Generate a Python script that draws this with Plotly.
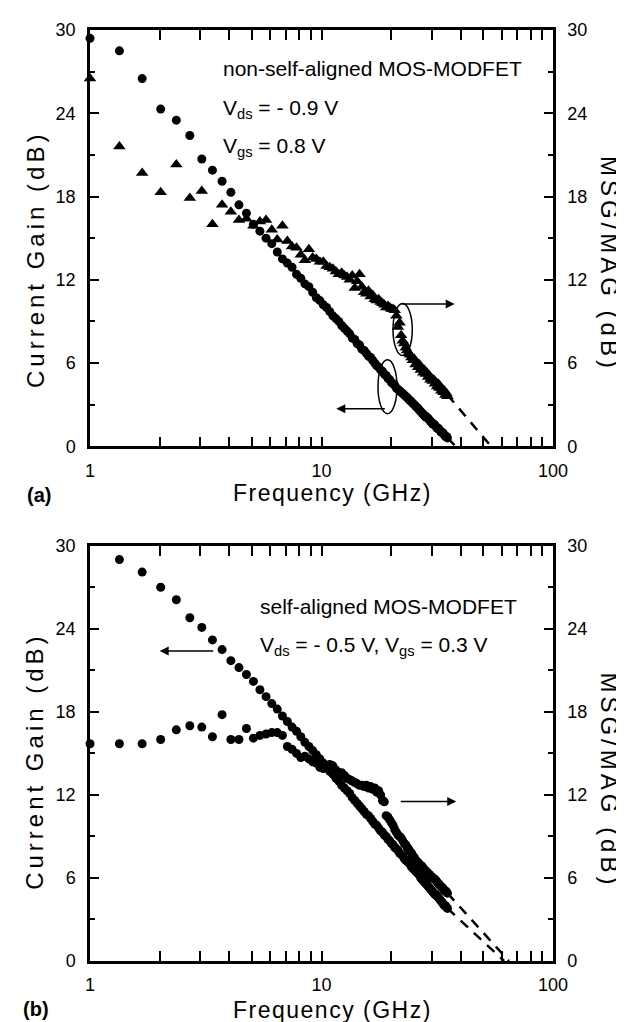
import plotly.graph_objects as go

FONT = "Arial, 'Liberation Sans', Helvetica, sans-serif"

# Frequency sweep (GHz), shared by both panels
freq = [
    1.00, 1.34, 1.68, 2.02, 2.36, 2.70, 3.04, 3.38, 3.72, 4.06,
    4.40, 4.74, 5.08, 5.42, 5.76, 6.10, 6.44, 6.78, 7.12, 7.46,
    7.80, 8.14, 8.48, 8.82, 9.16, 9.50, 9.84, 10.18, 10.52, 10.86,
    11.20, 11.54, 11.88, 12.22, 12.56, 12.90, 13.24, 13.58, 13.92, 14.26,
    14.60, 14.94, 15.28, 15.62, 15.96, 16.30, 16.64, 16.98, 17.32, 17.66,
    18.00, 18.34, 18.68, 19.02, 19.36, 19.70, 20.04, 20.38, 20.72, 21.06,
    21.40, 21.74, 22.08, 22.42, 22.76, 23.10, 23.44, 23.78, 24.12, 24.46,
    24.80, 25.14, 25.48, 25.82, 26.16, 26.50, 26.84, 27.18, 27.52, 27.86,
    28.20, 28.54, 28.88, 29.22, 29.56, 29.90, 30.24, 30.58, 30.92, 31.26,
    31.60, 31.94, 32.28, 32.62, 32.96, 33.30, 33.64, 33.98, 34.32, 34.66,
    35.00,
]

# (a) non-self-aligned: current gain (circles, left axis)
cg_a = [
    29.4, 28.5, 26.5, 24.3, 23.5, 22.4, 20.7, 19.9, 19.1, 18.3,
    17.4, 16.8, 16.0, 15.5, 15.0, 14.6, 14.0, 13.5, 13.2, 12.9,
    12.4, 12.1, 11.7, 11.5, 11.1, 10.7, 10.5, 10.2, 10.0, 9.7,
    9.4, 9.2, 9.0, 8.7, 8.5, 8.3, 8.1, 7.8, 7.7, 7.4,
    7.3, 7.0, 6.9, 6.7, 6.5, 6.4, 6.2, 6.0, 5.8, 5.7,
    5.5, 5.4, 5.2, 5.1, 4.9, 4.8, 4.6, 4.5, 4.4, 4.2,
    4.1, 4.0, 3.9, 3.8, 3.7, 3.6, 3.5, 3.4, 3.3, 3.2,
    3.1, 3.0, 2.9, 2.8, 2.7, 2.6, 2.5, 2.4, 2.3, 2.2,
    2.1, 2.1, 2.0, 1.9, 1.8, 1.7, 1.6, 1.6, 1.5, 1.4,
    1.3, 1.3, 1.2, 1.1, 1.0, 1.0, 0.9, 0.8, 0.7, 0.7,
    0.6,
]

# (a) non-self-aligned: MSG/MAG (triangles, right axis)
msg_a = [
    26.5, 21.6, 19.7, 18.3, 20.3, 17.9, 18.4, 16.0, 17.4, 16.9,
    16.3, 16.4, 15.9, 16.2, 16.3, 15.6, 14.9, 15.9, 14.8, 14.4,
    14.3, 13.8, 13.4, 14.2, 13.6, 13.5, 13.3, 13.3, 13.0, 12.9,
    12.8, 12.6, 12.4, 12.5, 12.3, 12.2, 12.0, 12.3, 11.4, 11.9,
    12.4, 11.5, 11.1, 11.0, 11.2, 10.8, 10.9, 10.6, 10.5, 10.6,
    10.4, 10.3, 10.2, 10.0, 10.1, 10.0, 9.9, 9.9, 9.8, 9.4,
    8.6, 8.9, 8.0, 7.6, 7.4, 7.1, 6.9, 6.7, 6.6, 6.4,
    6.2, 6.3, 5.9, 6.0, 5.7, 5.9, 5.5, 5.6, 5.3, 5.5,
    5.2, 5.3, 5.0, 5.1, 4.8, 4.9, 4.7, 4.8, 4.5, 4.6,
    4.3, 4.5, 4.2, 4.3, 4.0, 4.1, 3.9, 4.0, 3.7, 3.8,
    3.6,
]

# (b) self-aligned: current gain (circles, left axis)
cg_b = [
    None, 29.0, 28.1, 27.0, 26.1, 24.8, 24.1, 23.2, 22.5, 21.7,
    21.2, 20.7, 20.2, 19.6, 19.1, 18.6, 18.2, 17.7, 17.3, 16.9,
    16.6, 16.2, 15.8, 15.5, 15.2, 14.9, 14.6, 14.3, 14.0, 13.7,
    13.5, 13.2, 13.0, 12.7, 12.5, 12.3, 12.1, 11.8, 11.6, 11.4,
    11.2, 11.0, 10.8, 10.6, 10.5, 10.3, 10.1, 9.9, 9.8, 9.6,
    9.4, 9.3, 9.1, 9.0, 8.8, 8.7, 8.5, 8.4, 8.2, 8.1,
    8.0, 7.8, 7.7, 7.6, 7.4, 7.3, 7.2, 7.1, 7.0, 6.8,
    6.7, 6.6, 6.5, 6.4, 6.3, 6.2, 6.0, 5.9, 5.8, 5.7,
    5.6, 5.5, 5.4, 5.3, 5.2, 5.1, 5.0, 4.9, 4.8, 4.8,
    4.7, 4.6, 4.5, 4.4, 4.3, 4.2, 4.1, 4.0, 4.0, 3.9,
    3.8,
]

# (b) self-aligned: MSG/MAG (circles, right axis)
msg_b = [
    15.7, 15.7, 15.7, 16.0, 16.7, 17.0, 16.9, 16.2, 17.8, 16.0,
    16.0, 16.8, 16.1, 16.3, 16.4, 16.5, 16.5, 16.3, 15.5, 15.3,
    15.0, 14.7, 14.8, 14.6, 14.4, 14.3, 14.0, 13.9, 14.0, 14.2,
    14.1, 13.8, 13.6, 13.6, 13.4, 13.2, 13.1, 13.0, 12.9, 12.8,
    12.7, 12.7, 12.6, 12.7, 12.5, 12.6, 12.4, 12.5, 12.2, 12.3,
    12.0, 11.6, 11.5, 10.5, 10.4, 10.2, 10.0, 9.8, 9.5, 9.3,
    9.1, 9.0, 8.9, 8.7, 8.5, 8.4, 8.2, 8.1, 7.9, 7.8,
    7.6, 7.5, 7.3, 7.2, 7.1, 7.0, 6.9, 6.85, 6.7, 6.6,
    6.5, 6.4, 6.35, 6.25, 6.15, 6.1, 6.0, 5.95, 5.9, 5.8,
    5.7, 5.6, 5.5, 5.45, 5.35, 5.3, 5.2, 5.1, 5.05, 5.0,
    4.9,
]

# extrapolations to 0 dB (dashed)
ext_a_msg_f = [35.0, 54.0]
ext_a_msg_db = [3.7, 0.0]
ext_a_cg_f = [35.0, 38.0]
ext_a_cg_db = [0.6, 0.0]
ext_b_msg_f = [35.0, 64.5]
ext_b_msg_db = [4.9, 0.0]
ext_b_cg_f = [35.0, 61.5]
ext_b_cg_db = [3.8, 0.0]

x_ticks = [1, 10, 100]
y_range = [0, 30]

fig = go.Figure()

mk_c = dict(symbol="circle", size=9, color="black", line=dict(width=0))
mk_t = dict(symbol="triangle-up", size=11, color="black", line=dict(width=0))
dash_line = dict(color="black", width=2.5, dash="10px,8px")

fig.add_trace(go.Scatter(x=freq, y=cg_a, mode="markers", marker=mk_c,
                         xaxis="x", yaxis="y", cliponaxis=False))
fig.add_trace(go.Scatter(x=freq, y=msg_a, mode="markers", marker=mk_t,
                         xaxis="x", yaxis="y2", cliponaxis=False))
fig.add_trace(go.Scatter(x=ext_a_msg_f, y=ext_a_msg_db, mode="lines", line=dash_line,
                         xaxis="x", yaxis="y2"))
fig.add_trace(go.Scatter(x=ext_a_cg_f, y=ext_a_cg_db, mode="lines", line=dash_line,
                         xaxis="x", yaxis="y"))

fig.add_trace(go.Scatter(x=freq, y=cg_b, mode="markers", marker=mk_c,
                         xaxis="x2", yaxis="y3", cliponaxis=False))
fig.add_trace(go.Scatter(x=freq, y=msg_b, mode="markers", marker=mk_c,
                         xaxis="x2", yaxis="y4", cliponaxis=False))
fig.add_trace(go.Scatter(x=ext_b_msg_f, y=ext_b_msg_db, mode="lines", line=dash_line,
                         xaxis="x2", yaxis="y4"))
fig.add_trace(go.Scatter(x=ext_b_cg_f, y=ext_b_cg_db, mode="lines", line=dash_line,
                         xaxis="x2", yaxis="y3"))

tickfont = dict(family=FONT, size=18, color="black")

xcommon = dict(
    type="log", range=[0, 2], tickmode="array", tickvals=x_ticks,
    ticktext=[str(v) for v in x_ticks],
    showline=True, linewidth=2.5, linecolor="black", mirror="allticks",
    ticks="inside", ticklen=10, tickwidth=2, tickcolor="black",
    showgrid=False, zeroline=False, tickfont=tickfont, ticklabelstandoff=6,
    minor=dict(tickvals=[2, 3, 4, 5, 6, 7, 8, 9, 20, 30, 40, 50, 60, 70, 80, 90],
               ticks="inside", ticklen=6, tickwidth=2, tickcolor="black", showgrid=False),
)
ycommon = dict(
    range=y_range, tickmode="linear", tick0=0, dtick=6,
    showline=True, linewidth=2.5, linecolor="black",
    ticks="inside", ticklen=9, tickwidth=2, tickcolor="black",
    showgrid=False, zeroline=False, tickfont=tickfont, ticklabelstandoff=8,
    minor=dict(dtick=3, ticks="inside", ticklen=5, tickwidth=2, tickcolor="black", showgrid=False),
)

TOP_DOM = [0.5529, 1.0]
BOT_DOM = [0.0, 0.4460]

fig.update_layout(
    width=624, height=1022,
    margin=dict(l=82, r=79, t=18, b=69),
    paper_bgcolor="white", plot_bgcolor="white",
    showlegend=False,
    font=dict(family=FONT, color="black"),
    xaxis=dict(xcommon, anchor="y", domain=[0, 1]),
    xaxis2=dict(xcommon, anchor="y3", domain=[0, 1]),
    yaxis=dict(ycommon, domain=TOP_DOM, anchor="x", side="left"),
    yaxis2=dict(ycommon, overlaying="y", anchor="x", side="right"),
    yaxis3=dict(ycommon, domain=BOT_DOM, anchor="x2", side="left"),
    yaxis4=dict(ycommon, overlaying="y3", anchor="x2", side="right"),
)

title_font = dict(family=FONT, size=24, color="black")
ann_font = dict(family=FONT, size=21, color="black")


def spaced(txt, px):
    return "<span style='letter-spacing:%spx'>%s</span>" % (px, txt)


anns = []
# axis titles
for yc in (0.7540, 0.2150):
    anns.append(dict(text=spaced("Current Gain (dB)", 4), xref="paper", yref="paper",
                     x=-0.1188, y=yc, textangle=-90, showarrow=False, font=title_font,
                     xanchor="center", yanchor="middle"))
for yc in (0.7487, 0.1939):
    anns.append(dict(text=spaced("MSG/MAG (dB)", 4), xref="paper", yref="paper",
                     x=1.1210, y=yc, textangle=90, showarrow=False, font=title_font,
                     xanchor="center", yanchor="middle"))
for yc in (0.5030, -0.0530):
    anns.append(dict(text=spaced("Frequency (GHz)", 1.5), xref="paper", yref="paper",
                     x=0.5248, y=yc, showarrow=False, font=dict(family=FONT, size=23, color="black"),
                     xanchor="center", yanchor="middle"))
anns.append(dict(text="<b>(a)</b>", xref="paper", yref="paper", x=-0.1102, y=0.5005,
                 showarrow=False, font=dict(family=FONT, size=20, color="black"),
                 xanchor="center", yanchor="middle"))
anns.append(dict(text="<b>(b)</b>", xref="paper", yref="paper", x=-0.1166, y=-0.0513,
                 showarrow=False, font=dict(family=FONT, size=20, color="black"),
                 xanchor="center", yanchor="middle"))

# in-plot labels
for txt, xx, yy in [
    ("non-self-aligned MOS-MODFET", 0.2829, 0.9583),
    ("V<sub>ds</sub> = - 0.9 V", 0.2829, 0.9155),
    ("V<sub>gs</sub> = 0.8 V", 0.2829, 0.8738),
    ("self-aligned MOS-MODFET", 0.3629, 0.3807),
    ("V<sub>ds</sub> = - 0.5 V, V<sub>gs</sub> = 0.3 V", 0.3629, 0.3380),
]:
    anns.append(dict(text=txt, xref="paper", yref="paper", x=xx, y=yy, showarrow=False,
                     font=ann_font, xanchor="left", yanchor="middle"))

# arrows pointing to the relevant axis
for hx, hy, tail_dx in [(0.7877, 0.7056, -54), (0.5320, 0.5933, 50),
                        (0.1505, 0.3329, 55), (0.7911, 0.1714, -57)]:
    anns.append(dict(text="", xref="paper", yref="paper", x=hx, y=hy, ax=tail_dx, ay=0,
                     showarrow=True, arrowhead=2, arrowsize=1.2, arrowwidth=1.5,
                     arrowcolor="black", standoff=0, startstandoff=0))

fig.update_layout(annotations=anns)

# ellipses marking the data groups in (a)
fig.update_layout(shapes=[
    dict(type="circle", xref="paper", yref="paper", x0=0.6544, x1=0.6961, y0=0.6503, y1=0.7062,
         line=dict(color="black", width=1.5)),
    dict(type="circle", xref="paper", yref="paper", x0=0.6220, x1=0.6631, y0=0.5879, y1=0.6457,
         line=dict(color="black", width=1.5)),
])

fig.write_html("out.html")
